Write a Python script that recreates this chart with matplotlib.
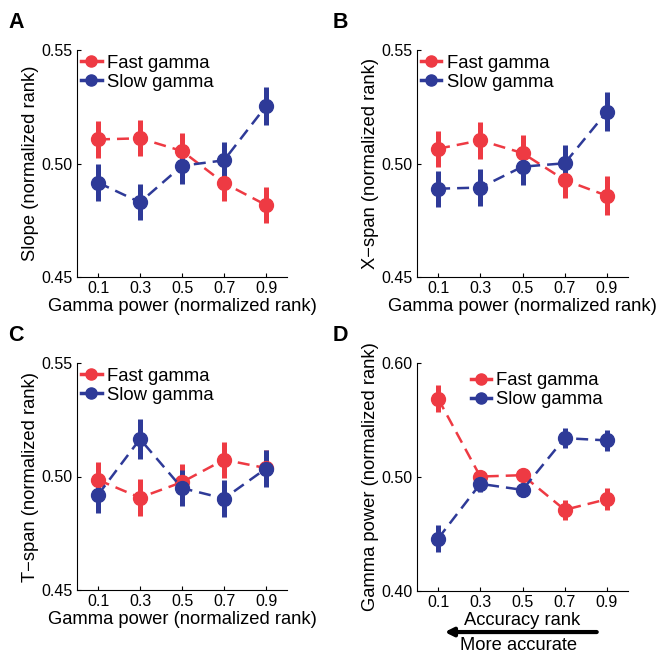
import numpy as np
import matplotlib
matplotlib.use('Agg')
import matplotlib.pyplot as plt
from matplotlib.lines import Line2D

plt.rcParams['font.family'] = ['Liberation Sans', 'DejaVu Sans']

x = [0.1, 0.3, 0.5, 0.7, 0.9]
xticklabels = ['0.1', '0.3', '0.5', '0.7', '0.9']

# panel A: slope
slope_fast = [0.5106, 0.5111, 0.5055, 0.4914, 0.4817]
slope_fast_err = [0.008, 0.008, 0.008, 0.008, 0.008]
slope_slow = [0.4916, 0.4829, 0.4990, 0.5014, 0.5253]
slope_slow_err = [0.008, 0.008, 0.008, 0.008, 0.0085]

# panel B: x-span
xspan_fast = [0.5065, 0.5102, 0.5046, 0.4927, 0.4858]
xspan_fast_err = [0.008, 0.008, 0.008, 0.008, 0.0085]
xspan_slow = [0.4889, 0.4894, 0.4986, 0.5001, 0.5228]
xspan_slow_err = [0.008, 0.008, 0.008, 0.008, 0.0085]

# panel C: t-span
tspan_fast = [0.4985, 0.4907, 0.4975, 0.5074, 0.5037]
tspan_fast_err = [0.008, 0.008, 0.008, 0.008, 0.008]
tspan_slow = [0.4919, 0.5165, 0.4949, 0.4903, 0.5035]
tspan_slow_err = [0.008, 0.009, 0.008, 0.008, 0.008]

# panel D: gamma power vs accuracy rank
gp_fast = [0.5687, 0.5004, 0.5016, 0.4712, 0.4805]
gp_fast_err = [0.012, 0.004, 0.004, 0.009, 0.0098]
gp_slow = [0.4460, 0.4940, 0.4887, 0.5341, 0.5321]
gp_slow_err = [0.012, 0.007, 0.006, 0.009, 0.0095]

red = '#ee3a43'
blue = '#2e3a98'

W, H = 669, 660
fig = plt.figure(figsize=(W / 100, H / 100), dpi=100)

def px_axes(l, t, r, b):
    return fig.add_axes([l / W, 1 - b / H, (r - l) / W, (b - t) / H])

def draw(ax, fast, fast_err, slow, slow_err, ylim, yticks, ylabel, xlabel):
    for y, e, c in [(fast, fast_err, red), (slow, slow_err, blue)]:
        ax.errorbar(x, y, yerr=e, color=c, ecolor=c, elinewidth=3.6, capsize=0,
                    marker='o', markersize=10, linestyle='--', linewidth=1.8,
                    dashes=(4.8, 2.8))
    ax.set_xlim(0, 1)
    ax.set_ylim(*ylim)
    ax.set_xticks(x)
    ax.set_xticklabels(xticklabels)
    ax.set_yticks(yticks)
    ax.set_yticklabels(['%.2f' % t for t in yticks])
    ax.spines['top'].set_visible(False)
    ax.spines['right'].set_visible(False)
    ax.tick_params(direction='in', length=3, labelsize=11.5, pad=3)
    ax.set_ylabel(ylabel, fontsize=13.2, labelpad=2)
    ax.set_xlabel(xlabel, fontsize=13.2, labelpad=1)
    handles = [Line2D([0], [0], color=red, marker='o', markersize=8, lw=2.5),
               Line2D([0], [0], color=blue, marker='o', markersize=8, lw=2.5)]
    return handles

def add_legend(ax, h, bx, by):
    ax.legend(h, ['Fast gamma', 'Slow gamma'], loc='upper left', frameon=False,
              fontsize=13.3, handlelength=1.1, handletextpad=0.3,
              labelspacing=0.1, borderaxespad=0.1, bbox_to_anchor=(bx, by))

axA = px_axes(77, 50, 287, 277)
h = draw(axA, slope_fast, slope_fast_err, slope_slow, slope_slow_err,
         (0.45, 0.55), [0.45, 0.50, 0.55], 'Slope (normalized rank)',
         'Gamma power (normalized rank)')
add_legend(axA, h, -0.024, 1.02)

axB = px_axes(417, 50, 628, 277)
h = draw(axB, xspan_fast, xspan_fast_err, xspan_slow, xspan_slow_err,
         (0.45, 0.55), [0.45, 0.50, 0.55], 'X\u2212span (normalized rank)',
         'Gamma power (normalized rank)')
add_legend(axB, h, -0.024, 1.02)

axC = px_axes(77, 363, 287, 590)
h = draw(axC, tspan_fast, tspan_fast_err, tspan_slow, tspan_slow_err,
         (0.45, 0.55), [0.45, 0.50, 0.55], 'T\u2212span (normalized rank)',
         'Gamma power (normalized rank)')
add_legend(axC, h, -0.024, 1.02)

axD = px_axes(417, 363, 628, 591)
h = draw(axD, gp_fast, gp_fast_err, gp_slow, gp_slow_err,
         (0.40, 0.60), [0.40, 0.50, 0.60], 'Gamma power (normalized rank)',
         'Accuracy rank')
add_legend(axD, h, 0.21, 1.0)
axD.annotate('', xy=(0.118, -0.18), xytext=(0.865, -0.18),
             xycoords='axes fraction', textcoords='axes fraction',
             arrowprops=dict(arrowstyle='-|>', color='black', lw=3,
                             mutation_scale=12), annotation_clip=False)
axD.text(0.48, -0.20, 'More accurate', transform=axD.transAxes,
         ha='center', va='top', fontsize=13.2)

for lab, xp, yp in [('A', 8, 28), ('B', 333, 28), ('C', 8, 341), ('D', 333, 341)]:
    fig.text(xp / W, 1 - yp / H, lab, fontsize=15.5, fontweight='bold',
             ha='left', va='baseline')

fig.savefig('out.png', dpi=100)
